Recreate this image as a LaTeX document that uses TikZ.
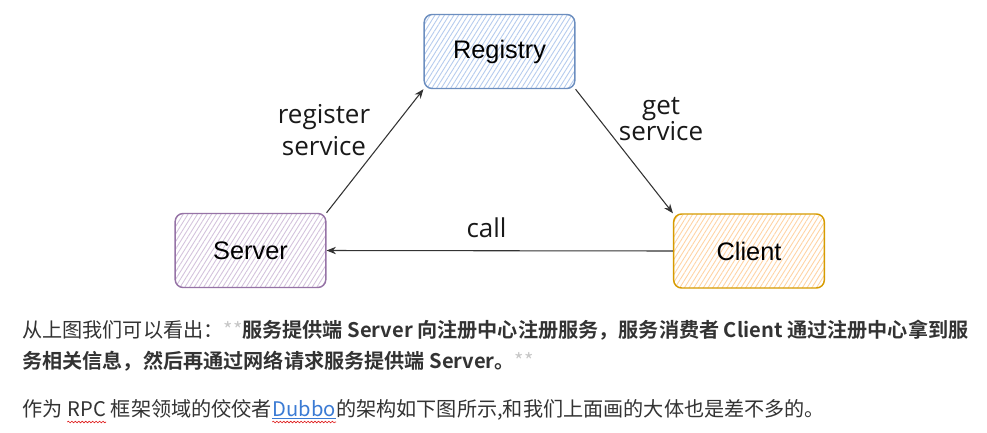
\documentclass[tikz,border=0pt]{standalone}
\usepackage{fontspec}
\usetikzlibrary{positioning, arrows.meta, patterns.meta, decorations.pathmorphing}

\newfontfamily\boxfont{Liberation Sans}
\newfontfamily\handfont{Open Sans}
\newfontfamily\cjk{Noto Sans CJK SC}[BoldFont={Noto Sans CJK SC Bold}]

\definecolor{regline}{HTML}{6C8EBF}
\definecolor{reghatch}{HTML}{B4CBEE}
\definecolor{srvline}{HTML}{9673A6}
\definecolor{srvhatch}{HTML}{D3C2DC}
\definecolor{cliline}{HTML}{D79B00}
\definecolor{clihatch}{HTML}{FFD3A3}
\definecolor{arrowgray}{HTML}{333333}
\definecolor{textgray}{HTML}{333333}
\definecolor{stargray}{HTML}{C8C8C8}
\definecolor{linkblue}{HTML}{3B7BD4}
\definecolor{spellred}{HTML}{E02020}

\begin{document}
\begin{tikzpicture}[x=0.75pt, y=-0.75pt,
    box/.style={draw, rounded corners=6pt, line width=1.1pt, minimum width=113pt, minimum height=55.5pt,
      font=\boxfont\fontsize{19}{22}\selectfont},
    hatch/.style={preaction={pattern={Lines[angle=58, distance=3pt, line width=0.65pt]}, pattern color=#1}},
    edge/.style={draw=arrowgray, line width=0.8pt, -{Stealth[length=7pt, width=5.5pt]}},
    lbl/.style={font=\handfont\fontsize{19.5}{23.7}\selectfont, align=center, text=black!90},
    para/.style={anchor=base west, inner sep=0pt, text=textgray, font=\cjk\fontsize{15.1}{18}\selectfont},
    squiggle/.style={draw=spellred, line width=0.5pt, decorate, decoration={snake, amplitude=0.6pt, segment length=2.6pt}}]
    \path[fill=white, use as bounding box] (0,0) rectangle (987,432);

    \node [box, draw=regline, hatch=reghatch] (registry) at (499.5,51.5) {Registry};
    \node [box, draw=srvline, hatch=srvhatch] (server) at (250.5,250.5) {Server};
    \node [box, draw=cliline, hatch=clihatch] (client) at (749,251) {Client};

    \draw [edge] (server.north east) -- (registry.south west);
    \draw [edge] (registry.south east) -- (client.north west);
    \draw [edge] (client.west) -- (server.east);

    \node [lbl] (reg) at (324,130) {register\\service};
    \node [lbl] (get) at (661,119) {get\\[-3.7pt]service};
    \node [lbl, anchor=base] (call) at (486.5,237) {call};

    \node [para] (line1) at (22,337) {从上图我们可以看出：{\color{stargray}**}\textbf{服务提供端 Server 向注册中心注册服务，服务消费者 Client 通过注册中心拿到服}};
    \node [para] (line2) at (22,368) {\textbf{务相关信息，然后再通过网络请求服务提供端 Server。}{\color{stargray}**}};

    \node [para] (line3) at (22,416) {作为\ \mbox{}};
    \node [para] (rpc) at (line3.base east) {RPC};
    \node [para] (line3b) at (rpc.base east) {\ 框架领域的佼佼者};
    \node [para, text=linkblue] (dubbo) at (line3b.base east) {Dubbo};
    \node [para] (line3c) at (dubbo.base east) {的架构如下图所示,和我们上面画的大体也是差不多的。};

    \draw [linkblue, line width=0.6pt] ([yshift=-2pt]dubbo.base west) -- ([yshift=-2pt]dubbo.base east);
    \draw [squiggle] ([yshift=-4.5pt]rpc.base west) -- ([yshift=-4.5pt]rpc.base east);
    \draw [squiggle] ([yshift=-4.5pt]dubbo.base west) -- ([yshift=-4.5pt]dubbo.base east);
  \end{tikzpicture}
\end{document}
